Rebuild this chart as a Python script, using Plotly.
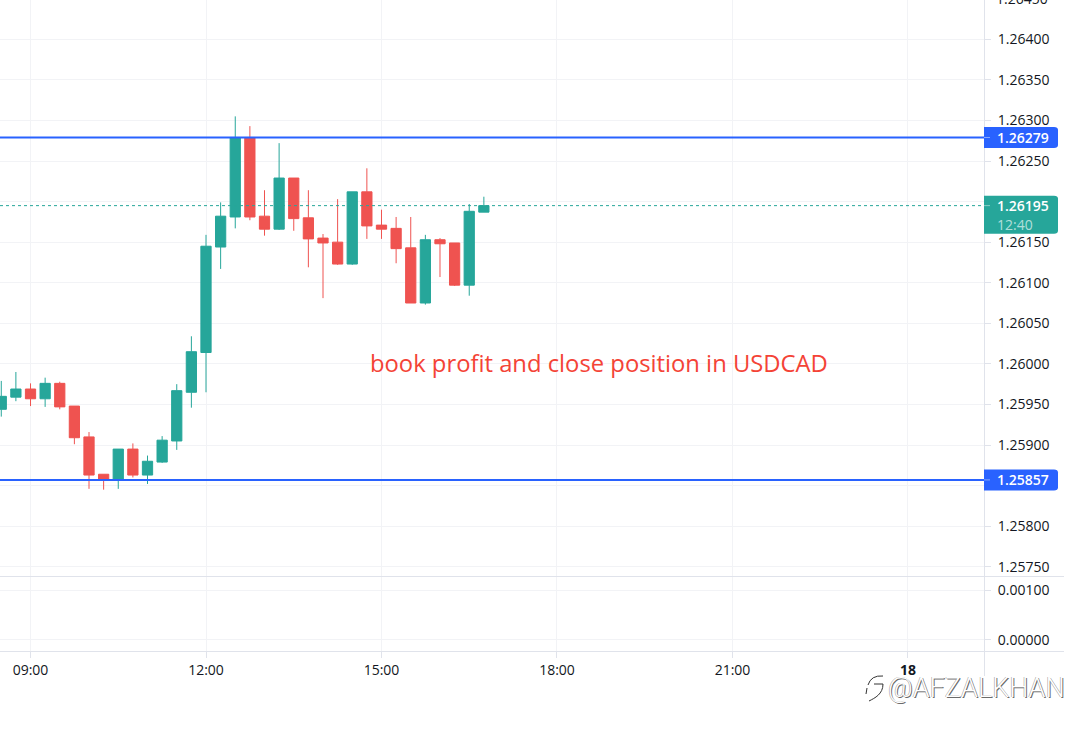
import plotly.graph_objects as go

DAY = "2022-03-17"
NEXT_DAY = "2022-03-18"
times = ["08:30","08:45","09:00","09:15","09:30","09:45","10:00","10:15","10:30","10:45","11:00","11:15",
         "11:30","11:45","12:00","12:15","12:30","12:45","13:00","13:15","13:30","13:45","14:00","14:15",
         "14:30","14:45","15:00","15:15","15:30","15:45","16:00","16:15","16:30","16:45"]
opens = [1.25944,1.25959,1.25969,1.25957,1.25976,1.25948,1.25910,1.25864,1.25857,1.25895,1.25863,1.25879,
         1.25905,1.25965,1.26014,1.26144,1.26181,1.26279,1.26182,1.26166,1.26229,1.26180,1.26155,1.26150,
         1.26123,1.26212,1.26171,1.26167,1.26143,1.26075,1.26153,1.26149,1.26097,1.26187]
highs = [1.25979,1.25990,1.25976,1.25983,1.25978,1.25948,1.25916,1.25864,1.25895,1.25902,1.25887,1.25911,
         1.25975,1.26034,1.26159,1.26199,1.26305,1.26293,1.26214,1.26272,1.26229,1.26214,1.26160,1.26203,
         1.26212,1.26241,1.26190,1.26181,1.26181,1.26159,1.26155,1.26149,1.26197,1.26206]
lows = [1.25935,1.25954,1.25948,1.25947,1.25944,1.25901,1.25846,1.25845,1.25846,1.25860,1.25852,1.25878,
        1.25894,1.25946,1.25965,1.26117,1.26167,1.26177,1.26158,1.26165,1.26164,1.26119,1.26081,1.26122,
        1.26122,1.26154,1.26154,1.26124,1.26075,1.26073,1.26107,1.26096,1.26084,1.26187]
closes = [1.25960,1.25969,1.25957,1.25976,1.25947,1.25909,1.25863,1.25857,1.25895,1.25863,1.25880,1.25906,
          1.25967,1.26015,1.26145,1.26182,1.26279,1.26181,1.26166,1.26229,1.26179,1.26154,1.26149,1.26123,
          1.26212,1.26170,1.26166,1.26142,1.26075,1.26153,1.26148,1.26097,1.26188,1.26195]

price_ticks = [1.26400,1.26350,1.26300,1.26250,1.26200,1.26150,1.26100,1.26050,1.26000,1.25950,1.25900,1.25850,1.25800,1.25750]
price_tick_labels = ["1.26400","1.26350","1.26300","1.26250","","1.26150","1.26100","1.26050","1.26000","1.25950","1.25900","","1.25800","1.25750"]
clipped_tick = "1.26450"
indicator_ticks = [0.00100, 0.00000]
indicator_labels = ["0.00100", "0.00000"]
time_tick_times = [f"{DAY} 09:00", f"{DAY} 12:00", f"{DAY} 15:00", f"{DAY} 18:00", f"{DAY} 21:00", f"{NEXT_DAY} 00:00"]
time_tick_labels = ["09:00", "12:00", "15:00", "18:00", "21:00", "<b>18</b>"]

resistance = 1.26279
support = 1.25857
last_price = 1.26195
countdown = "12:40"
note = "book profit and close position in USDCAD"
note_time = f"{DAY} 14:46"
note_price = 1.26001
watermark = "@AFZALKHAN"

UP, DOWN, BLUE = "#26a69a", "#ef5350", "#2962ff"
GRID, AXIS, INK = "#f2f3f6", "#e0e3eb", "#131722"
FONT = "Open Sans"
W, H = 1077, 730
PANE_R, PANE_B, MAIN_B, RIGHT_END = 984, 651, 576, 1064

dates = [f"{DAY} {t}" for t in times]

fig = go.Figure()
fig.add_trace(go.Candlestick(
    x=dates, open=opens, high=highs, low=lows, close=closes, xaxis="x", yaxis="y",
    increasing=dict(line=dict(color=UP, width=1), fillcolor=UP),
    decreasing=dict(line=dict(color=DOWN, width=1), fillcolor=DOWN),
    whiskerwidth=0, showlegend=False, hoverinfo="skip"))
fig.add_trace(go.Scatter(x=[], y=[], xaxis="x", yaxis="y2", showlegend=False))

tickfont = dict(family=FONT, size=14, color=INK)
shapes = []
annotations = []

def paper_line(x0, x1, y0, y1, color=AXIS):
    shapes.append(dict(type="line", xref="paper", yref="paper", x0=x0/PANE_R, x1=x1/PANE_R,
                       y0=1-y0/PANE_B, y1=1-y1/PANE_B, line=dict(color=color, width=1), layer="above"))

paper_line(0, RIGHT_END, MAIN_B + 0.5, MAIN_B + 0.5)
paper_line(0, RIGHT_END, PANE_B + 0.5, PANE_B + 0.5)
paper_line(PANE_R + 0.5, PANE_R + 0.5, 0, 676)

for level in (resistance, support):
    shapes.append(dict(type="line", xref="paper", yref="y", x0=0, x1=1, y0=level, y1=level,
                       line=dict(color=BLUE, width=2), layer="above"))
shapes.append(dict(type="line", xref="paper", yref="y", x0=0, x1=1, y0=last_price, y1=last_price,
                   line=dict(color=UP, width=1, dash="dot"), layer="above"))

def tag(price, color, top, bottom):
    path = (f"M0,{-bottom} L70,{-bottom} Q74,{-bottom} 74,{-bottom+3} L74,{-top-3} "
            f"Q74,{-top} 70,{-top} L0,{-top} Z")
    shapes.append(dict(type="path", xref="paper", yref="y", xsizemode="pixel", ysizemode="pixel",
                       xanchor=1, yanchor=price, path=path, fillcolor=color, line=dict(width=0), layer="above"))
    shapes.append(dict(type="line", xref="paper", yref="y", xsizemode="pixel", xanchor=1, x0=0, x1=6,
                       y0=price, y1=price, line=dict(color="rgba(255,255,255,0.45)", width=1), layer="above"))
    annotations.append(dict(xref="paper", yref="y", x=1, y=price, xshift=10.5, xanchor="left", yanchor="middle",
                            text=f"{price:.5f}", showarrow=False,
                            font=dict(family=FONT, size=14, color="white", weight=600)))

tag(resistance, BLUE, -10.5, 10.5)
tag(support, BLUE, -10.5, 10.5)
tag(last_price, UP, -10, 28)
annotations.append(dict(xref="paper", yref="y", x=1, y=last_price, xshift=10.5, yshift=-19, xanchor="left",
                        yanchor="middle", text=countdown, showarrow=False,
                        font=dict(family=FONT, size=14, color="rgba(255,255,255,0.65)")))

annotations.append(dict(xref="paper", yref="paper", x=1, y=1+1/PANE_B, xshift=10, xanchor="left", yanchor="middle",
                        text=clipped_tick, showarrow=False, font=tickfont))
annotations.append(dict(xref="x", yref="y", x=note_time, y=note_price, xanchor="left", yanchor="middle",
                        text=note, showarrow=False, font=dict(family=FONT, size=23.8, color="#f44336")))
annotations.append(dict(xref="paper", yref="paper", x=1, y=0, xshift=83, yshift=-37, xanchor="right", yanchor="middle",
                        text=watermark, showarrow=False,
                        font=dict(family="Roboto", size=27, color="white", weight=300,
                                  shadow="1px 1px 0 #6b6b6b, -0.5px -0.5px 0 #9a9a9a")))
# small speech-bubble logo beside the watermark
shapes.append(dict(type="path", xref="paper", yref="paper", xsizemode="pixel", ysizemode="pixel",
                   xanchor=1, yanchor=0,
                   path="M-116,-34 Q-113,-24 -101,-25 M-110,-33 L-101,-33 "
                        "C-101,-43 -109,-47 -115,-50 M-118,-43 L-117,-37",
                   line=dict(color="#333333", width=1), layer="above"))

fig.update_layout(
    width=W, height=H, autosize=False,
    margin=dict(l=0, r=W-PANE_R, t=0, b=H-PANE_B, pad=0),
    paper_bgcolor="white", plot_bgcolor="white", showlegend=False, dragmode=False,
    boxgap=0.3, boxgroupgap=0,
    xaxis=dict(domain=[0, 1], anchor="y2", type="date",
               range=[f"{DAY} 08:28:42", f"{NEXT_DAY} 01:18:00"],
               rangeslider=dict(visible=False),
               tickmode="array", tickvals=time_tick_times, ticktext=time_tick_labels,
               showgrid=True, gridcolor=GRID, gridwidth=1, zeroline=False, showline=False,
               ticks="outside", ticklen=6, tickcolor=AXIS, tickwidth=1, tickfont=tickfont, ticklabelstandoff=0),
    yaxis=dict(domain=[1-MAIN_B/PANE_B, 1], anchor="x", side="right", range=[1.257386, 1.264484],
               tickmode="array", tickvals=price_ticks, ticktext=price_tick_labels,
               showgrid=True, gridcolor=GRID, gridwidth=1, zeroline=False, showline=False,
               ticks="outside", ticklen=6, tickcolor=AXIS, tickwidth=1, tickfont=tickfont, ticklabelstandoff=4),
    yaxis2=dict(domain=[0, 1-MAIN_B/PANE_B], anchor="x", side="right", range=[-0.000224, 0.00129],
                tickmode="array", tickvals=indicator_ticks, ticktext=indicator_labels,
                showgrid=True, gridcolor=GRID, gridwidth=1, zeroline=False, showline=False,
                ticks="outside", ticklen=6, tickcolor=AXIS, tickwidth=1, tickfont=tickfont, ticklabelstandoff=4),
    shapes=shapes, annotations=annotations,
)

fig.write_html("out.html", config=dict(displayModeBar=False, staticPlot=True),
               post_script="document.body.style.margin='0';document.body.style.overflow='hidden';")
